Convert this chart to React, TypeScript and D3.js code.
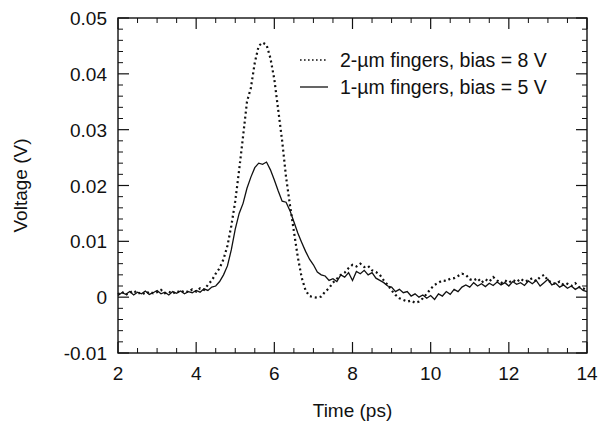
import React from "react";
import * as d3 from "d3";

const timePs = [
  2.0, 2.1, 2.2, 2.3, 2.4, 2.5, 2.6, 2.7, 2.8, 2.9,
  3.0, 3.1, 3.2, 3.3, 3.4, 3.5, 3.6, 3.7, 3.8, 3.9,
  4.0, 4.1, 4.2, 4.3, 4.4, 4.5, 4.6, 4.7, 4.8, 4.9,
  5.0, 5.1, 5.2, 5.3, 5.4, 5.5, 5.6, 5.7, 5.8, 5.9,
  6.0, 6.1, 6.2, 6.3, 6.4, 6.5, 6.6, 6.7, 6.8, 6.9,
  7.0, 7.1, 7.2, 7.3, 7.4, 7.5, 7.6, 7.7, 7.8, 7.9,
  8.0, 8.1, 8.2, 8.3, 8.4, 8.5, 8.6, 8.7, 8.8, 8.9,
  9.0, 9.1, 9.2, 9.3, 9.4, 9.5, 9.6, 9.7, 9.8, 9.9,
  10.0, 10.1, 10.2, 10.3, 10.4, 10.5, 10.6, 10.7, 10.8, 10.9,
  11.0, 11.1, 11.2, 11.3, 11.4, 11.5, 11.6, 11.7, 11.8, 11.9,
  12.0, 12.1, 12.2, 12.3, 12.4, 12.5, 12.6, 12.7, 12.8, 12.9,
  13.0, 13.1, 13.2, 13.3, 13.4, 13.5, 13.6, 13.7, 13.8, 13.9,
  14.0,
];

// 2-µm fingers, bias = 8 V (dotted)
const voltage2um = [
  0.0005, 0.0010, 0.0004, 0.0008, 0.0012, 0.0006, 0.0009, 0.0005, 0.0010, 0.0007,
  0.0009, 0.0013, 0.0007, 0.0010, 0.0006, 0.0011, 0.0008, 0.0012, 0.0009, 0.0014,
  0.0010, 0.0016, 0.0013, 0.0022, 0.0030, 0.0042, 0.0052, 0.0068, 0.0092, 0.0128,
  0.0172, 0.0228, 0.0288, 0.0350, 0.0375, 0.0420, 0.0450, 0.0456, 0.0452, 0.0428,
  0.0390, 0.0335, 0.0280, 0.0215, 0.0165, 0.0118, 0.0072, 0.0035, 0.0012, 0.0002,
  0.0000, -0.0001, 0.0001, 0.0010, 0.0016, 0.0026, 0.0033, 0.0040, 0.0044, 0.0052,
  0.0058, 0.0055, 0.0060, 0.0054, 0.0056, 0.0048, 0.0045, 0.0040, 0.0030, 0.0022,
  0.0012, 0.0004, -0.0002, -0.0005, -0.0008, -0.0006, -0.0010, -0.0008, -0.0002, 0.0006,
  0.0015, 0.0022, 0.0026, 0.0030, 0.0029, 0.0033, 0.0034, 0.0038, 0.0042, 0.0040,
  0.0032, 0.0030, 0.0034, 0.0026, 0.0032, 0.0028, 0.0036, 0.0030, 0.0025, 0.0030,
  0.0026, 0.0031, 0.0027, 0.0033, 0.0028, 0.0030, 0.0034, 0.0029, 0.0036, 0.0040,
  0.0030, 0.0026, 0.0024, 0.0028, 0.0022, 0.0024, 0.0020, 0.0025, 0.0018, 0.0016,
  0.0012,
];

// 1-µm fingers, bias = 5 V (solid)
const voltage1um = [
  0.0003, 0.0008, 0.0005, 0.0010, 0.0004, 0.0009, 0.0006, 0.0011, 0.0005, 0.0008,
  0.0012, 0.0006, 0.0009, 0.0004, 0.0010, 0.0007, 0.0011, 0.0006, 0.0010, 0.0008,
  0.0012, 0.0009, 0.0015, 0.0012, 0.0018, 0.0020, 0.0028, 0.0040, 0.0056, 0.0085,
  0.0122, 0.0150, 0.0168, 0.0195, 0.0215, 0.0232, 0.0240, 0.0238, 0.0242, 0.0228,
  0.0210, 0.0190, 0.0172, 0.0170, 0.0155, 0.0135, 0.0115, 0.0098, 0.0082, 0.0068,
  0.0058, 0.0045, 0.0040, 0.0038, 0.0030, 0.0033, 0.0028, 0.0040, 0.0036, 0.0044,
  0.0030, 0.0046, 0.0042, 0.0048, 0.0040, 0.0044, 0.0034, 0.0030, 0.0026, 0.0020,
  0.0018, 0.0010, 0.0014, 0.0008, 0.0010, 0.0002, 0.0006, 0.0000, 0.0004, -0.0002,
  0.0003, -0.0004, 0.0006, 0.0002, 0.0010, 0.0005, 0.0014, 0.0010, 0.0018, 0.0022,
  0.0018, 0.0026, 0.0020, 0.0024, 0.0019, 0.0025, 0.0021, 0.0027, 0.0022, 0.0026,
  0.0020, 0.0028, 0.0023, 0.0026, 0.0021, 0.0029, 0.0024, 0.0030, 0.0020, 0.0026,
  0.0032, 0.0022, 0.0025, 0.0018, 0.0022, 0.0016, 0.0020, 0.0014, 0.0018, 0.0012,
  0.0010,
];

const xTicks = [2, 4, 6, 8, 10, 12, 14];
const yTicks = [-0.01, 0, 0.01, 0.02, 0.03, 0.04, 0.05];
const yTickLabels = ["-0.01", "0", "0.01", "0.02", "0.03", "0.04", "0.05"];
const legendLabels = ["2-\u00B5m fingers, bias = 8 V", "1-\u00B5m fingers, bias = 5 V"];

const W = 598;
const H = 426;
const L = 118;
const R = 587;
const T = 18;
const B = 353;
const FONT = "'Liberation Sans', Arial, Helvetica, sans-serif";

export default function App() {
  const x = d3.scaleLinear().domain([2, 14]).range([L, R]);
  const y = d3.scaleLinear().domain([-0.01, 0.05]).range([B, T]);

  const xMinor = d3.range(2, 14.001, 0.5).filter((v) => !xTicks.some((t) => Math.abs(t - v) < 1e-6));
  const yMinor = d3
    .range(-0.01, 0.05001, 0.002)
    .filter((v) => !yTicks.some((t) => Math.abs(t - v) < 1e-6));

  const line = d3
    .line<number>()
    .x((_, i) => x(timePs[i]))
    .y((d) => y(d));

  const MAJ = 11;
  const MIN = 5;

  return (
    <svg
      width={W}
      height={H}
      style={{ position: "absolute", left: 0, top: 0, background: "#fff" }}
      fontFamily={FONT}
    >
      <rect x={0} y={0} width={W} height={H} fill="#fff" />
      {/* data */}
      <path d={line(voltage1um) || ""} fill="none" stroke="#111" strokeWidth={1.3} />
      <path
        d={line(voltage2um) || ""}
        fill="none"
        stroke="#111"
        strokeWidth={2.2}
        strokeDasharray="2,3"
      />
      {/* frame */}
      <rect x={L} y={T} width={R - L} height={B - T} fill="none" stroke="#111" strokeWidth={1.4} />
      {/* x ticks */}
      {xTicks.map((t) => (
        <g key={"xt" + t}>
          <line x1={x(t)} x2={x(t)} y1={B} y2={B - MAJ} stroke="#111" strokeWidth={1.2} />
          <line x1={x(t)} x2={x(t)} y1={T} y2={T + MAJ} stroke="#111" strokeWidth={1.2} />
          <text x={x(t)} y={380} textAnchor="middle" fontSize={19} fill="#111">
            {t}
          </text>
        </g>
      ))}
      {xMinor.map((t) => (
        <g key={"xm" + t}>
          <line x1={x(t)} x2={x(t)} y1={B} y2={B - MIN} stroke="#111" strokeWidth={1} />
          <line x1={x(t)} x2={x(t)} y1={T} y2={T + MIN} stroke="#111" strokeWidth={1} />
        </g>
      ))}
      {/* y ticks */}
      {yTicks.map((t, i) => (
        <g key={"yt" + t}>
          <line x1={L} x2={L + MAJ} y1={y(t)} y2={y(t)} stroke="#111" strokeWidth={1.2} />
          <line x1={R} x2={R - MAJ} y1={y(t)} y2={y(t)} stroke="#111" strokeWidth={1.2} />
          <text x={107} y={y(t) + 7} textAnchor="end" fontSize={19} fill="#111">
            {yTickLabels[i]}
          </text>
        </g>
      ))}
      {yMinor.map((t) => (
        <g key={"ym" + t}>
          <line x1={L} x2={L + MIN} y1={y(t)} y2={y(t)} stroke="#111" strokeWidth={1} />
          <line x1={R} x2={R - MIN} y1={y(t)} y2={y(t)} stroke="#111" strokeWidth={1} />
        </g>
      ))}
      {/* axis titles */}
      <text x={(L + R) / 2} y={417} textAnchor="middle" fontSize={19} fill="#111">
        Time (ps)
      </text>
      <text
        transform={`translate(27,${(T + B) / 2}) rotate(-90)`}
        textAnchor="middle"
        fontSize={19}
        fill="#111"
      >
        Voltage (V)
      </text>
      {/* legend */}
      <line x1={300} x2={328} y1={60} y2={60} stroke="#111" strokeWidth={1.4} strokeDasharray="1.6,2.4" />
      <text x={340} y={67} fontSize={19.5} fill="#111">
        {legendLabels[0]}
      </text>
      <line x1={300} x2={328} y1={87} y2={87} stroke="#111" strokeWidth={1.3} />
      <text x={340} y={94} fontSize={19.5} fill="#111">
        {legendLabels[1]}
      </text>
    </svg>
  );
}
